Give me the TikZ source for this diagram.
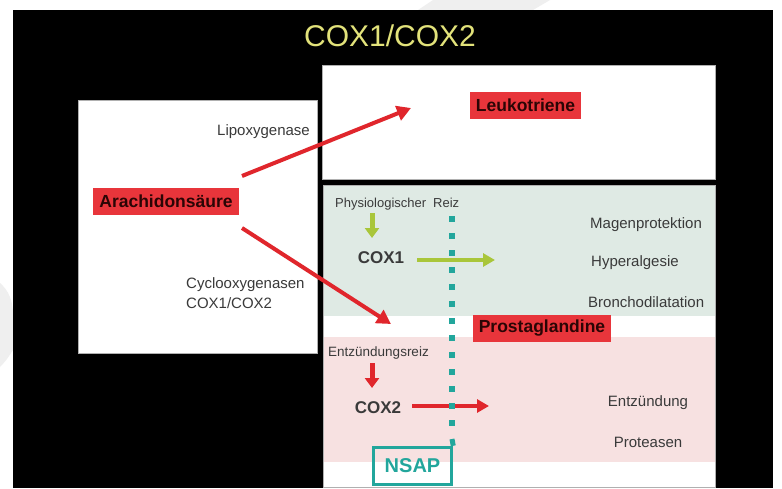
\documentclass[tikz,border=0pt]{standalone}
\usepackage{fontspec}
\setmainfont{Liberation Sans}
\usetikzlibrary{arrows.meta}
\definecolor{titleyel}{HTML}{E2E27A}
\definecolor{boxred}{HTML}{E8353B}
\definecolor{arrred}{HTML}{E0262C}
\definecolor{leafgreen}{HTML}{A9C63A}
\definecolor{nsapteal}{HTML}{22A69C}
\definecolor{greenbg}{HTML}{DFEAE4}
\definecolor{pinkbg}{HTML}{F7E1E1}
\definecolor{txtgrey}{HTML}{3A3A3A}
\definecolor{darklbl}{HTML}{2B0505}
\definecolor{wmgrey}{HTML}{EFEFEF}
\definecolor{panelline}{HTML}{B0B0B0}
\tikzset{
  panel/.style={fill=white, draw=panelline, line width=0.6pt},
  redlbl/.style={fill=boxred, text=darklbl, font=\fontsize{17.5}{20}\selectfont\bfseries, inner xsep=6pt, inner ysep=0pt, minimum height=27pt},
  plain/.style={text=txtgrey, inner sep=0pt},
  cox/.style={text=txtgrey, inner sep=0pt, font=\fontsize{17}{20}\selectfont\bfseries},
  redarrow/.style={draw=arrred, line width=4pt, -{Triangle[length=14pt,width=15pt]}},
  greenarrow/.style={draw=leafgreen, line width=4pt, -{Triangle[length=12pt,width=13pt]}},
  coxredarrow/.style={draw=arrred, line width=4pt, -{Triangle[length=12pt,width=13pt]}},
  downgreen/.style={draw=leafgreen, line width=5pt, -{Triangle[length=10pt,width=14pt]}},
  downred/.style={draw=arrred, line width=5pt, -{Triangle[length=10pt,width=14pt]}}
}
\begin{document}
\begin{tikzpicture}[x=1pt,y=-1pt]
\useasboundingbox (0,0) rectangle (782,488);
\fill[white] (0,0) rectangle (782,488);
% faint watermark shapes
\fill[wmgrey] (433,0) -- (550,0) -- (533,10) -- (418,10) -- cycle;
\fill[wmgrey] (0,283) .. controls (8,290) and (13,300) .. (13,315) -- (13,350) .. controls (8,358) and (4,363) .. (0,367) -- cycle;
% slide background
\fill[black] (13,10) rectangle (773,488);
\node[text=titleyel, font=\fontsize{30}{34}\selectfont, inner sep=0pt] (title) at (390,36) {COX1/COX2};
% panels
\draw[panel] (78,100) rectangle (317,353);
\draw[panel] (322,65) rectangle (715,179);
\draw[panel] (323,185) rectangle (715,487);
\fill[greenbg] (323.5,185.5) rectangle (714.5,316);
\fill[pinkbg] (323.5,337) rectangle (714.5,462);
% red labels
\node[redlbl] (ara) at (166,201.5) {Arachidonsäure};
\node[redlbl] (leuko) at (525.5,105.5) {Leukotriene};
\node[redlbl] (prosta) at (542,328.5) {Prostaglandine};
% left panel texts
\node[plain, font=\fontsize{15}{18}\selectfont, anchor=east] (lipo) at (310,132) {Lipoxygenase};
\node[plain, font=\fontsize{15}{20}\selectfont, anchor=west, align=left] (cyclo) at (186,293) {Cyclooxygenasen\\COX1/COX2};
% main arrows
\coordinate (a1s) at (242,176);
\coordinate (a1e) at (411,108);
\coordinate (a2s) at (242,228);
\coordinate (a2e) at (391,324);
\draw[redarrow] (a1s) -- (a1e);
\draw[redarrow] (a2s) -- (a2e);
% COX1 part
\node[plain, font=\fontsize{13}{16}\selectfont, anchor=west] (physio) at (335,204) {Physiologischer\hspace{7pt}Reiz};
\node[cox] (cox1) at (381,258) {COX1};
\coordinate (g1s) at (372,213);
\coordinate (g1e) at (372,238);
\draw[downgreen] (g1s) -- (g1e);
\coordinate (g2s) at (417,260);
\coordinate (g2e) at (495,260);
\draw[greenarrow] (g2s) -- (g2e);
\node[plain, font=\fontsize{15}{18}\selectfont, anchor=west] (mag) at (590,225) {Magenprotektion};
\node[plain, font=\fontsize{15}{18}\selectfont, anchor=west] (hyper) at (591,263) {Hyperalgesie};
\node[plain, font=\fontsize{15}{18}\selectfont, anchor=west] (broncho) at (588,302) {Bronchodilatation};
% COX2 part
\node[plain, font=\fontsize{13.5}{16}\selectfont, anchor=west] (entzreiz) at (328,353) {Entzündungsreiz};
\node[cox] (cox2) at (378,408) {COX2};
\coordinate (r1s) at (372,363);
\coordinate (r1e) at (372,388);
\draw[downred] (r1s) -- (r1e);
\coordinate (r2s) at (412,406);
\coordinate (r2e) at (489,406);
\draw[coxredarrow] (r2s) -- (r2e);
\node[plain, font=\fontsize{15}{18}\selectfont] (entz) at (648,403) {Entzündung};
\node[plain, font=\fontsize{15}{18}\selectfont] (prot) at (648,442) {Proteasen};
% NSAP
\node[draw=nsapteal, line width=3.5pt, text=nsapteal, font=\fontsize{20}{22}\selectfont\bfseries, minimum width=78pt, minimum height=37pt, inner sep=0pt] (nsap) at (412.5,466) {NSAP};
\coordinate (dtop) at (452,216);
\coordinate (dbot) at (452,432);
\coordinate (dsol) at (452,439);
\draw[nsapteal, line width=6pt, dash pattern=on 6pt off 11pt] (dtop) -- (dbot);
\draw[nsapteal, line width=5pt] (dsol) -- (nsap.north east);
\end{tikzpicture}
\end{document}
